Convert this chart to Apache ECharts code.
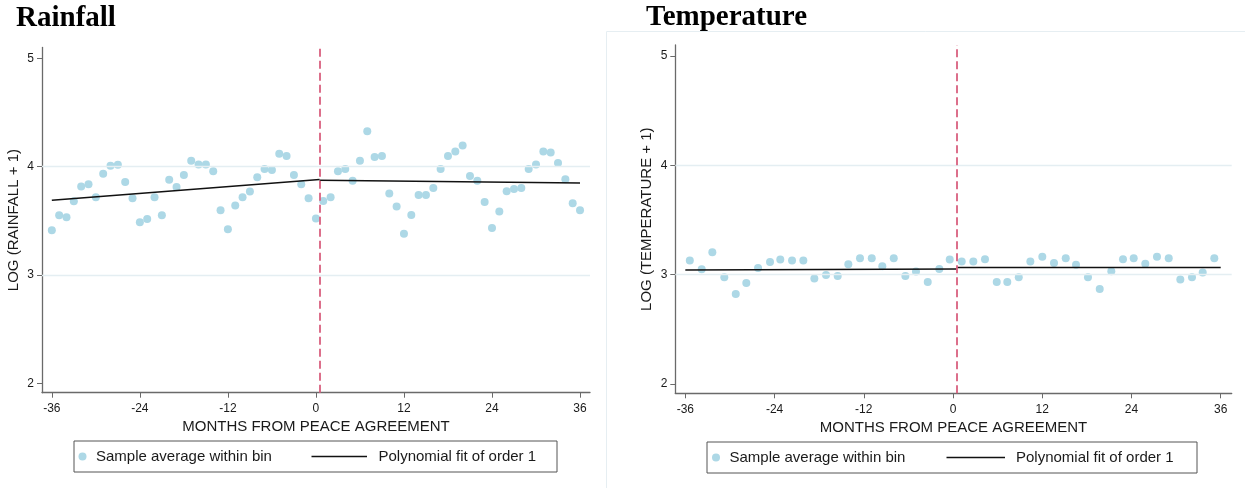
<!DOCTYPE html>
<html>
<head>
<meta charset="utf-8">
<script src="https://cdn.jsdelivr.net/npm/echarts@6/dist/echarts.min.js"></script>
<style>
html,body{margin:0;padding:0;background:#fff;}
#chart{width:1245px;height:488px;}
</style>
</head>
<body>
<div id="chart"></div>
<script>
// ---------- data ----------
const CUTOFF = 0.5;
const xTicks = [-36, -24, -12, 0, 12, 24, 36];
const yTicks = [2, 3, 4, 5];
const gridYValues = [3, 4];

const rainMonths = [-36,-35,-34,-33,-32,-31,-30,-29,-28,-27,-26,-25,-24,-23,-22,-21,-20,-19,-18,-17,-16,-15,-14,-13,-12,-11,-10,-9,-8,-7,-6,-5,-4,-3,-2,-1,0,
  1,2,3,4,5,6,7,8,9,10,11,12,13,14,15,16,17,18,19,20,21,22,23,24,25,26,27,28,29,30,31,32,33,34,35,36];
const rainValues = [3.414,3.552,3.534,3.681,3.816,3.837,3.718,3.935,4.009,4.018,3.859,3.708,3.488,3.518,3.718,3.552,3.880,3.812,3.923,4.055,4.021,4.021,3.957,3.598,3.423,3.641,3.718,3.770,3.902,3.978,3.969,4.120,4.098,3.923,3.837,3.708,3.522,
  3.684,3.718,3.957,3.978,3.871,4.055,4.328,4.089,4.098,3.752,3.632,3.380,3.555,3.739,3.739,3.803,3.978,4.098,4.141,4.196,3.914,3.871,3.674,3.435,3.586,3.773,3.794,3.803,3.978,4.021,4.141,4.132,4.033,3.883,3.662,3.598];
const rainFitLeft = [[-36, 3.690], [0.5, 3.882]];
const rainFitRight = [[0.5, 3.874], [36, 3.849]];

const tempMonths = [-35.40,-33.80,-32.37,-30.76,-29.22,-27.80,-26.22,-24.61,-23.23,-21.65,-20.13,-18.65,-17.08,-15.51,-14.08,-12.51,-10.93,-9.51,-7.97,-6.41,-4.98,-3.40,-1.84,-0.44,
  1.17,2.73,4.30,5.88,7.30,8.84,10.40,12.01,13.58,15.16,16.54,18.15,19.73,21.29,22.86,24.30,25.86,27.43,29.01,30.57,32.14,33.58,35.14];
const tempValues = [3.128,3.049,3.205,2.975,2.823,2.924,3.061,3.116,3.138,3.128,3.128,2.963,2.997,2.988,3.095,3.150,3.150,3.076,3.150,2.988,3.028,2.933,3.052,3.138,
  3.119,3.119,3.140,2.933,2.933,2.975,3.119,3.162,3.107,3.150,3.089,2.975,2.869,3.030,3.140,3.150,3.098,3.162,3.150,2.954,2.975,3.018,3.150];
const tempFitLeft = [[-36, 3.043], [0.5, 3.052]];
const tempFitRight = [[0.5, 3.064], [36, 3.064]];

const panelTitles = ['Rainfall', 'Temperature'];
const yTitles = ['LOG (RAINFALL + 1)', 'LOG (TEMPERATURE + 1)'];
const xTitle = 'MONTHS FROM PEACE AGREEMENT';
const legendLabels = ['Sample average within bin', 'Polynomial fit of order 1'];

// ---------- styles ----------
const DOT = '#add8e6';
const AXIS = '#6a6a6a';
const TXT = '#1a1a1a';
const GRIDC = '#e4eef2';
const DASH = '#d9607f';
const SANS = '"Liberation Sans", Arial, sans-serif';

function zip(xs, ys) { return xs.map((x, i) => [x, ys[i]]); }

function xAxisCfg(idx, min, max) {
  return {
    type: 'value', gridIndex: idx, min: min, max: max,
    name: xTitle, nameLocation: 'middle', nameGap: 25,
    nameTextStyle: { fontFamily: SANS, fontSize: 15, color: TXT },
    axisLine: { show: true, onZero: false, lineStyle: { color: AXIS, width: 1.3 } },
    axisTick: { show: true, length: 5, customValues: xTicks, lineStyle: { color: AXIS } },
    axisLabel: { customValues: xTicks, fontFamily: SANS, fontSize: 12, color: TXT, margin: 10 },
    splitLine: { show: false }
  };
}
function yAxisCfg(idx) {
  return {
    type: 'value', gridIndex: idx, min: 1.914, max: 5.1,
    name: yTitles[idx], nameLocation: 'middle', nameGap: 21, nameRotate: 90,
    nameTextStyle: { fontFamily: SANS, fontSize: 15, color: TXT },
    axisLine: { show: true, onZero: false, lineStyle: { color: AXIS, width: 1.3 } },
    axisTick: { show: true, length: 5, customValues: yTicks, lineStyle: { color: AXIS } },
    axisLabel: { customValues: yTicks, fontFamily: SANS, fontSize: 12, color: TXT, margin: 8 },
    splitLine: { show: false }
  };
}
function scatterSeries(idx, data) {
  return {
    type: 'scatter', xAxisIndex: idx, yAxisIndex: idx, data: data,
    symbolSize: 8, itemStyle: { color: DOT, opacity: 1 }, z: 3,
    markLine: {
      silent: true, symbol: 'none', label: { show: false }, animation: false,
      data: gridYValues.map(v => ({ yAxis: v, lineStyle: { color: GRIDC, width: 1.3, type: 'solid' } }))
        .concat([{ xAxis: CUTOFF, lineStyle: { color: DASH, width: 1.8, type: [8, 4] } }])
    }
  };
}
function fitSeries(idx, data) {
  return {
    type: 'line', xAxisIndex: idx, yAxisIndex: idx, data: data,
    symbol: 'none', lineStyle: { color: '#111', width: 1.5 }, z: 4, silent: true
  };
}

function legendGraphics(box, dotX, txt1X, lineX1, lineX2, txt2X) {
  const cy = box.y + box.h / 2;
  return [
    { type: 'rect', shape: { x: box.x, y: box.y, width: box.w, height: box.h },
      style: { fill: '#fff', stroke: '#555', lineWidth: 1 } },
    { type: 'circle', shape: { cx: dotX, cy: cy, r: 4 }, style: { fill: DOT } },
    { type: 'text', x: txt1X, y: cy, style: { text: legendLabels[0], font: '15px ' + SANS, fill: TXT, verticalAlign: 'middle' } },
    { type: 'line', shape: { x1: lineX1, y1: cy, x2: lineX2, y2: cy }, style: { stroke: '#111', lineWidth: 1.3 } },
    { type: 'text', x: txt2X, y: cy, style: { text: legendLabels[1], font: '15px ' + SANS, fill: TXT, verticalAlign: 'middle' } }
  ];
}

const chart = echarts.init(document.getElementById('chart'), null, { renderer: 'canvas' });
chart.setOption({
  animation: false,
  backgroundColor: '#fff',
  grid: [
    { left: 42, top: 47.5, width: 548, height: 345.2 },
    { left: 675.3, top: 45, width: 556.4, height: 348.3 }
  ],
  xAxis: [xAxisCfg(0, -37.34, 37.36), xAxisCfg(1, -37.35, 37.48)],
  yAxis: [yAxisCfg(0), yAxisCfg(1)],
  series: [
    scatterSeries(0, zip(rainMonths, rainValues)),
    fitSeries(0, rainFitLeft),
    fitSeries(0, rainFitRight),
    scatterSeries(1, zip(tempMonths, tempValues)),
    fitSeries(1, tempFitLeft),
    fitSeries(1, tempFitRight)
  ],
  graphic: [
    { type: 'line', shape: { x1: 606.5, y1: 31.5, x2: 606.5, y2: 488 }, style: { stroke: '#e6eef2', lineWidth: 1 }, z: -1 },
    { type: 'line', shape: { x1: 606.5, y1: 31.5, x2: 1245, y2: 31.5 }, style: { stroke: '#e6eef2', lineWidth: 1 }, z: -1 },
    { type: 'text', x: 16, y: 4, style: { text: panelTitles[0], font: 'bold 29px "Liberation Serif", "Times New Roman", serif', fill: '#000', verticalAlign: 'top' } },
    { type: 'text', x: 646, y: 3, style: { text: panelTitles[1], font: 'bold 29px "Liberation Serif", "Times New Roman", serif', fill: '#000', verticalAlign: 'top' } }
  ].concat(
    legendGraphics({ x: 74, y: 441, w: 483, h: 31 }, 82.5, 96, 311.5, 367, 378.5),
    legendGraphics({ x: 707, y: 442, w: 490, h: 31 }, 716, 729.5, 946.5, 1005, 1016)
  )
});
</script>
</body>
</html>
